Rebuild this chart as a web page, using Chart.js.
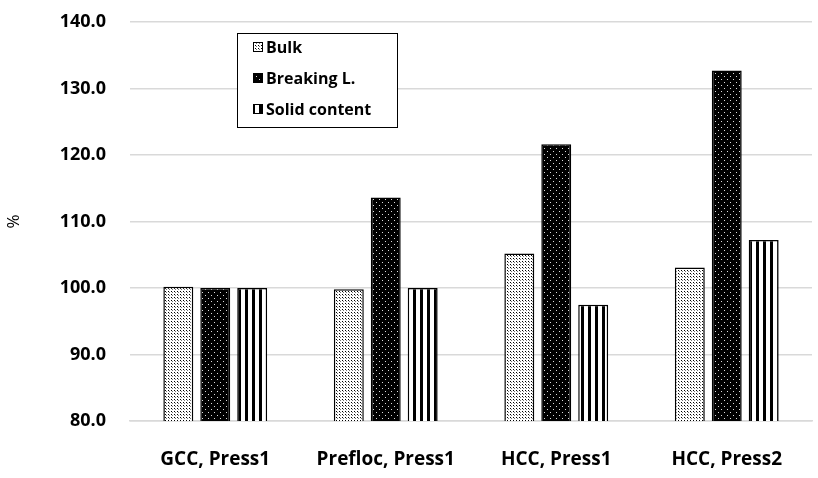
<!DOCTYPE html>
<html>
<head>
<meta charset="utf-8">
<script src="https://cdn.jsdelivr.net/npm/chart.js@4.4.0/dist/chart.umd.min.js"></script>
<style>
  html, body { margin: 0; padding: 0; background: #fff; }
  #wrap { width: 818px; height: 478px; }
</style>
</head>
<body>
<div id="wrap"><canvas id="chart" width="818" height="478"></canvas></div>
<script>
const categories = ['GCC, Press1', 'Prefloc, Press1', 'HCC, Press1', 'HCC, Press2'];
const seriesNames = ['Bulk', 'Breaking L.', 'Solid content'];
const bulk = [100.2, 99.8, 105.2, 103.1];
const breaking = [100.0, 113.6, 121.6, 132.7];
const solid = [100.0, 100.0, 97.5, 107.2];
const yTicks = [80, 90, 100, 110, 120, 130, 140];

// small canvas patterns to mimic the print-style fills
function makePattern(w, h, draw) {
  const c = document.createElement('canvas');
  c.width = w; c.height = h;
  const g = c.getContext('2d');
  draw(g);
  return document.getElementById('chart').getContext('2d').createPattern(c, 'repeat');
}

const dotsLight = makePattern(3, 3, g => {
  g.fillStyle = '#fff'; g.fillRect(0, 0, 3, 3);
  g.fillStyle = '#000'; g.fillRect(0, 0, 1, 1);
  g.fillStyle = '#777'; g.fillRect(1, 1, 1, 1);
});
const dotsDark = makePattern(6, 6, g => {
  g.fillStyle = '#000'; g.fillRect(0, 0, 6, 6);
  g.fillStyle = '#ddd'; g.fillRect(1, 1, 1, 1); g.fillRect(4, 4, 1, 1);
});
const stripes = makePattern(7, 1, g => {
  g.fillStyle = '#fff'; g.fillRect(0, 0, 7, 1);
  g.fillStyle = '#000'; g.fillRect(0, 0, 3, 1);
});

const legendBox = {
  id: 'legendBox',
  afterDraw(chart) {
    const ctx = chart.ctx;
    ctx.save();
    ctx.fillStyle = '#fff';
    ctx.fillRect(237, 33, 160, 94);
    ctx.strokeStyle = '#000';
    ctx.lineWidth = 1;
    ctx.strokeRect(237.5, 33.5, 160, 94);
    ctx.font = 'bold 16px "Open Sans"';
    ctx.textBaseline = 'middle';
    chart.data.datasets.forEach((ds, i) => {
      const y = 47 + i * 31;
      ctx.fillStyle = ds.backgroundColor;
      ctx.fillRect(253, y - 5, 10, 10);
      ctx.strokeStyle = '#000';
      ctx.strokeRect(253.5, y - 4.5, 9, 9);
      ctx.fillStyle = '#000';
      ctx.fillText(ds.label, 266, y + 1);
    });
    ctx.restore();
  }
};

new Chart(document.getElementById('chart'), {
  type: 'bar',
  data: {
    labels: categories,
    datasets: [
      { label: seriesNames[0], data: bulk, backgroundColor: dotsLight },
      { label: seriesNames[1], data: breaking, backgroundColor: dotsDark },
      { label: seriesNames[2], data: solid, backgroundColor: stripes },
    ].map(d => Object.assign(d, { borderColor: '#000', borderWidth: 1.5, borderSkipped: 'bottom' })),
  },
  options: {
    responsive: false,
    animation: false,
    categoryPercentage: 0.65,
    barPercentage: 0.81,
    layout: { padding: { top: 22, right: 6 } },
    plugins: { legend: { display: false }, tooltip: { enabled: false } },
    scales: {
      x: {
        grid: { display: false },
        border: { color: '#d9d9d9', width: 1.5 },
        ticks: { color: '#000', font: { family: 'Open Sans', size: 19, weight: 'bold' }, padding: 19 },
        afterFit: s => { s.height = 57; s.paddingLeft = 0; s.paddingRight = 0; },
      },
      y: {
        min: 80,
        max: 140,
        afterBuildTicks: s => { s.ticks = yTicks.map(v => ({ value: v })); },
        grid: { color: '#d9d9d9', lineWidth: 1.5, drawTicks: false },
        border: { display: false },
        ticks: {
          color: '#000',
          font: { family: 'Open Sans', size: 18, weight: 'bold' },
          padding: 24,
          callback: v => v.toFixed(1),
        },
        title: { display: true, text: '%', color: '#000', font: { family: 'Open Sans', size: 17 }, padding: { top: 4, bottom: 0 } },
        afterFit: s => { s.width = 130; s.paddingTop = 0; s.paddingBottom = 0; },
      },
    },
  },
  plugins: [legendBox],
});
</script>
</body>
</html>
